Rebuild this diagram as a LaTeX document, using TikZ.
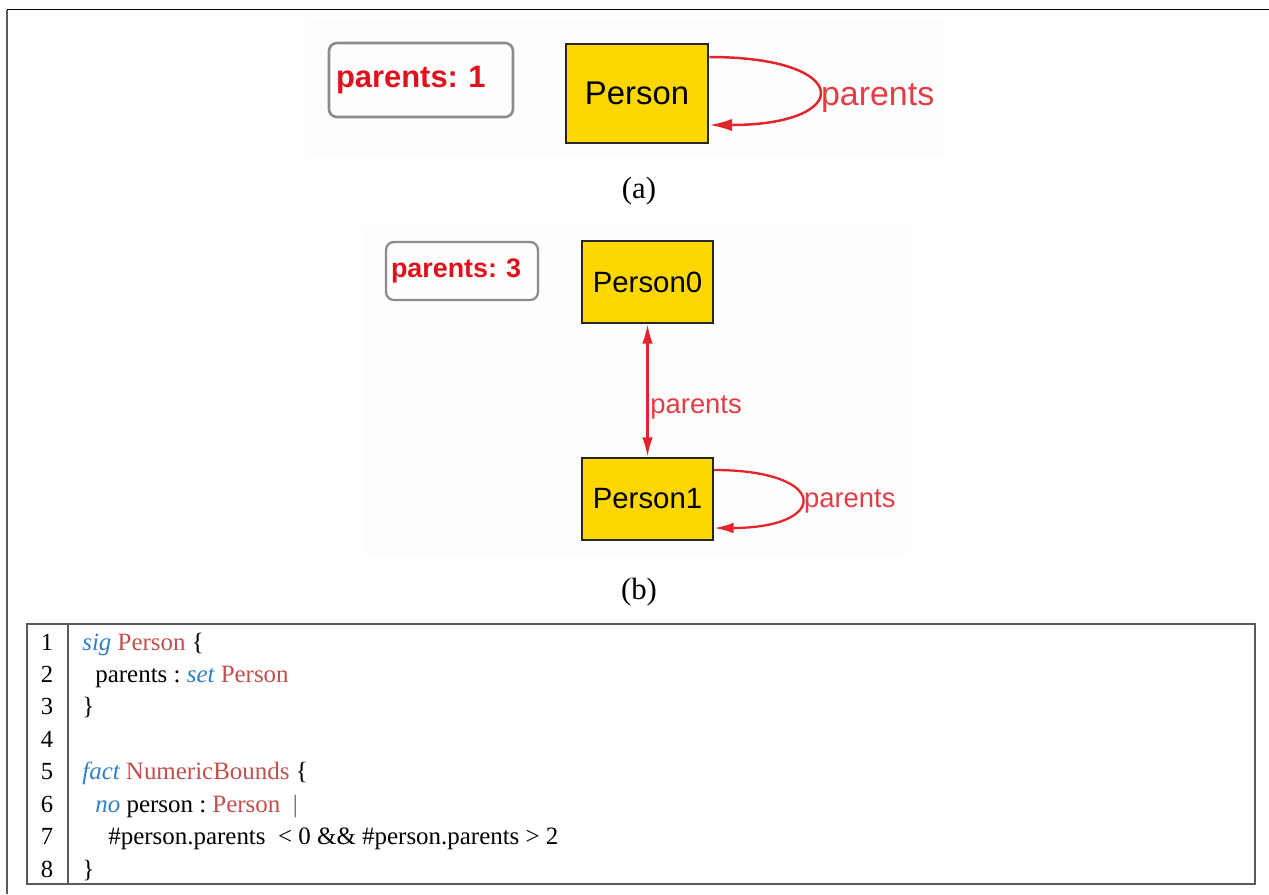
\documentclass[tikz,border=0pt]{standalone}
\usepackage{fontspec}
\setmainfont{Liberation Serif}
\newfontfamily\alloyfont{Liberation Sans}
\usetikzlibrary{arrows.meta}
\definecolor{alloyGold}{HTML}{FFD700}
\definecolor{alloyRed}{HTML}{E3242B}
\definecolor{labelRed}{HTML}{E43C45}
\definecolor{countRed}{HTML}{E0101C}
\definecolor{kwBlue}{HTML}{2F7EC7}
\definecolor{typeRed}{HTML}{C0504D}
\definecolor{frameGray}{HTML}{5A5A5A}

% keywords and signature names in the listing
\newcommand{\kw}[1]{{\itshape\color{kwBlue}#1}}
\newcommand{\ty}[1]{{\color{typeRed}#1}}

\begin{document}
\frenchspacing
\begin{tikzpicture}[
  x=0.02cm, y=-0.02cm,
  atom/.style={
    draw=black!85,
    line width=1.6pt,
    fill=alloyGold,
    inner sep=0pt,
    font=\alloyfont\fontsize{18.7}{22}\selectfont,
    minimum width=2.84cm,
    minimum height=1.98cm
  },
  atom small/.style={
    atom,
    line width=1.4pt,
    font=\alloyfont\fontsize{16.7}{20}\selectfont,
    minimum width=2.62cm,
    minimum height=1.64cm
  },
  counter/.style={
    draw=black!45,
    line width=1.5pt,
    rounded corners=4.5pt,
    align=left,
    text=countRed,
    font=\alloyfont\bfseries\fontsize{17.6}{21}\selectfont,
    text width=3.4cm,
    inner xsep=0.14cm,
    minimum height=1.48cm
  },
  counter small/.style={
    counter,
    line width=1.3pt,
    font=\alloyfont\bfseries\fontsize{15.3}{18}\selectfont,
    text width=2.84cm,
    inner xsep=0.1cm,
    minimum height=1.16cm
  },
  rel/.style={draw=alloyRed, line width=1.4pt, -{Latex[length=13pt, width=7pt]}},
  rel small/.style={draw=alloyRed, line width=1.3pt, -{Latex[length=11pt, width=6pt]}},
  rellabel/.style={text=labelRed, inner sep=1pt, font=\alloyfont\fontsize{19.3}{23}\selectfont},
  rellabel small/.style={rellabel, font=\alloyfont\fontsize{15.6}{19}\selectfont},
  caption/.style={font=\fontsize{17.5}{21}\selectfont, inner sep=0pt},
  lineno/.style={anchor=base, inner sep=0pt, font=\fontsize{14}{17}\selectfont},
  codeline/.style={anchor=base west, inner sep=0pt, font=\fontsize{14.2}{17}\selectfont},
  codeframe/.style={draw=frameGray, line width=1pt}
]
\useasboundingbox (0,0) rectangle (1269,894);

% frame around the figure
\draw[black, line width=1.1pt] (1269,9.5) -- (7,9.5);
\draw[frameGray, line width=1.3pt] (7,9.5) -- (7,894);

% instance (a)
\fill[black!0.8] (305,20) rectangle (945,157);
\node[counter] (cnta) at (421,80) {parents: 1};
\node[atom] (person) at (637,93.5) {Person};
\draw[rel] ([yshift=0.73cm]person.east) .. controls +(145,0) and +(145,0) ..
  node[rellabel, anchor=west, yshift=-4pt] {parents} ([yshift=-0.63cm]person.east);
\node[caption] (capa) at (639,191) {(a)};

% instance (b)
\fill[black!0.8] (365,225) rectangle (910,555);
\node[counter small] (cntb) at (462,271) {parents: 3};
\node[atom small] (person0) at (647.5,282) {Person0};
\node[atom small] (person1) at (647.5,499) {Person1};
\draw[rel small, {Latex[length=11pt, width=6pt]}-{Latex[length=11pt, width=6pt]}]
  (person0) -- node[rellabel small, anchor=west, pos=0.63] {parents} (person1);
\draw[rel small] ([yshift=0.58cm]person1.east) .. controls +(116,0) and +(116,0) ..
  node[rellabel small, anchor=west, yshift=-1.5pt] {parents} ([yshift=-0.58cm]person1.east);
\node[caption] (capb) at (639,592) {(b)};

% Alloy listing
\draw[codeframe] (27,624) rectangle (1255,884);
\draw[codeframe] (68,624) -- (68,884);
\foreach \i in {1,...,8}
  \node[lineno] (n\i) at (47,{650+32.43*(\i-1)}) {\i};

\node[codeline] (c1) at (82,650) {\kw{sig} \ty{Person} \{};
\node[codeline] (c2) at (95,682.4) {parents : \kw{set} \ty{Person}};
\node[codeline] (c3) at (82,714.9) {\}};
\node[codeline] (c5) at (82,779.7) {\kw{fact} \ty{NumericBounds} \{};
\node[codeline] (c6) at (95,812.2) {\kw{no} person : \ty{Person}\ \ {\color{black!60}|}};
\node[codeline] (c7) at (108,844.6) {\#person.parents\ \ < 0 \&\& \#person.parents > 2};
\node[codeline] (c8) at (82,877) {\}};

\end{tikzpicture}
\end{document}
